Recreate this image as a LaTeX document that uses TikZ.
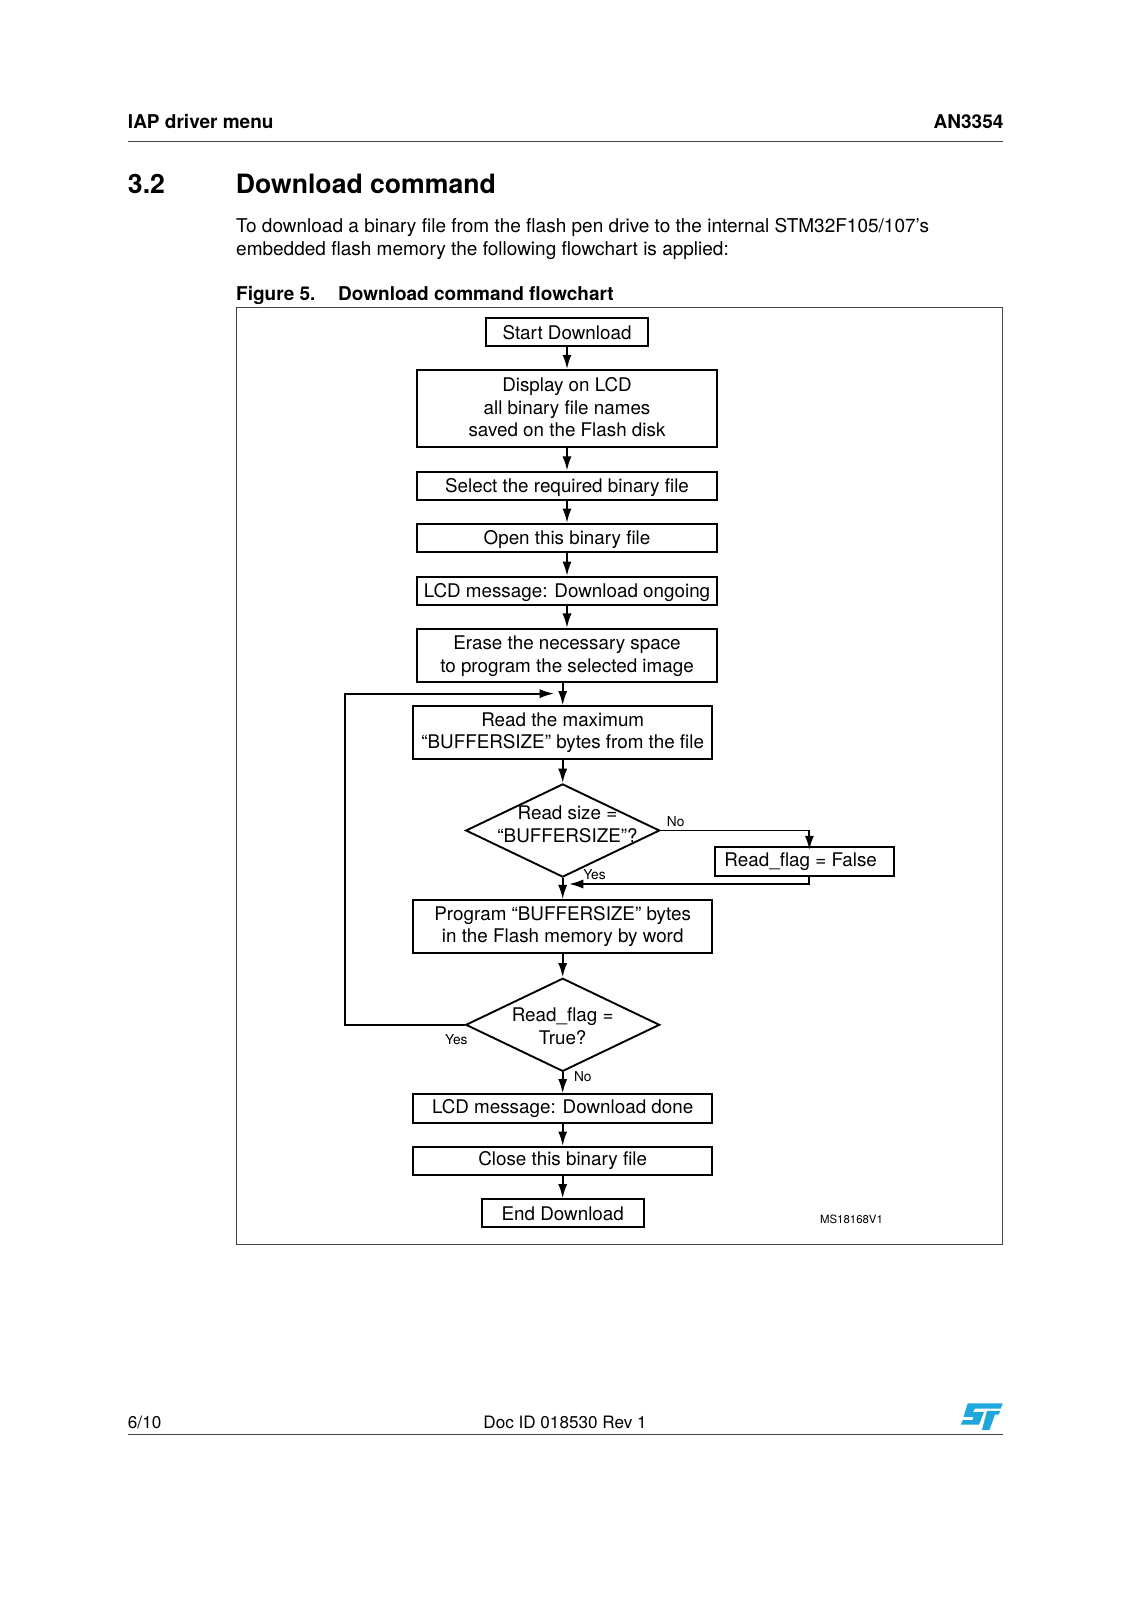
\documentclass[tikz,border=0pt]{standalone}
\usepackage{fontspec}
\setmainfont{TeX Gyre Heros}
\usepackage{xcolor}
\usetikzlibrary{arrows.meta,shapes.geometric}
\definecolor{stblue}{HTML}{1FA6DC}
\definecolor{rulegray}{HTML}{444444}
\tikzset{
  stepbox/.style={draw=black,line width=1pt,fill=white,inner sep=0pt,align=center,minimum width=157.5pt,font=\fontsize{9.9}{12}\selectfont},
  onerow/.style={minimum height=15pt,text height=7.2pt,text depth=0pt},
  decide/.style={draw=black,line width=1pt,shape=diamond,inner sep=0pt,minimum width=102pt,minimum height=49pt,aspect=2.09},
  decidetext/.style={inner sep=0pt,align=center,font=\fontsize{9.9}{12}\selectfont},
  flow/.style={draw=black,line width=1pt,-{Latex[length=7.5pt,width=4.8pt]}},
  small/.style={inner sep=0pt,font=\fontsize{7.2}{8}\selectfont},
  pagetext/.style={inner sep=0pt,anchor=base west,font=\fontsize{10}{12}\selectfont},
  pagebold/.style={pagetext,font=\fontsize{10}{12}\selectfont\bfseries},
  pagerule/.style={draw=rulegray,line width=.5pt}
}
\begin{document}
\begin{tikzpicture}[x=.526pt,y=-.526pt]
\useasboundingbox (0,0) rectangle (1132,1600);
% page head
\node[pagebold] (head) at (127.6,128) {IAP driver menu};
\node[pagebold,anchor=base east] (docno) at (1003.8,128) {AN3354};
\draw[pagerule] (127.6,141.4) -- (1003.3,141.4);
\node[pagetext,font=\fontsize{14}{16}\selectfont\bfseries] (secno) at (127.6,193.5) {3.2};
\node[pagetext,font=\fontsize{14}{16}\selectfont\bfseries] (sectitle) at (235.5,193.5) {Download command};
\node[pagetext] (bodya) at (235.8,232.5) {To download a binary file from the flash pen drive to the internal STM32F105/107’s};
\node[pagetext] (bodyb) at (235.8,255) {embedded flash memory the following flowchart is applied:};
\node[pagebold] (figno) at (235.8,300.5) {Figure 5.};
\node[pagebold] (figtitle) at (337.8,300.5) {Download command flowchart};
\draw[rulegray,line width=.5pt] (236,307.2) rectangle (1002.8,1244.2);
% upper steps
\node[stepbox,minimum width=85.4pt,minimum height=14.5pt] (start) at (567,332.2) {Start Download};
\node[stepbox,minimum height=40.5pt,text depth=1.6pt] (names) at (567,408.5) {Display on LCD\\all binary file names\\saved on the Flash disk};
\node[stepbox,onerow] (select) at (567,485.8) {Select the required binary file};
\node[stepbox,onerow] (open) at (567,538) {Open this binary file};
\node[stepbox,onerow] (ongoing) at (567,591) {LCD message: Download ongoing};
\node[stepbox,minimum height=27.9pt,text depth=1pt] (erase) at (567,655.2) {Erase the necessary space\\to program the selected image};
% loop body
\node[stepbox,minimum height=27.7pt] (read) at (562.7,732.6) {Read the maximum\\“BUFFERSIZE” bytes from the file};
\node[decide] (sizetest) at (562.7,830.5) {};
\node[decidetext] (sizetext) at (567.5,824.5) {Read size =\\“BUFFERSIZE”?};
\node[stepbox,minimum width=94.2pt,minimum height=15pt] (flagbox) at (804.5,861.3) {Read\_flag = False\hspace*{4pt}};
\node[stepbox,minimum height=27.7pt] (program) at (562.7,926.5) {Program “BUFFERSIZE” bytes\\in the Flash memory by word};
\node[decide] (flagtest) at (562.7,1024.8) {};
\node[decidetext] (flagtext) at (562.7,1026) {Read\_flag =\\True?};
% lower steps
\node[stepbox,minimum height=15pt] (done) at (562.7,1108.5) {LCD message: Download done};
\node[stepbox,minimum height=15pt] (close) at (562.7,1161) {Close this binary file};
\node[stepbox,minimum width=85.3pt,minimum height=14.8pt] (end) at (562.7,1213.3) {End Download};
% small labels
\node[small] (no1) at (675.7,822) {No};
\node[small] (yes1) at (594.5,874.7) {Yes};
\node[small] (yes2) at (456.3,1040) {Yes};
\node[small] (no2) at (582.8,1076.8) {No};
\node[small,font=\fontsize{6}{7}\selectfont] (msno) at (851.5,1219.7) {MS18168V1};
% connectors
\draw[flow] (start) -- (names);
\draw[flow] (names) -- (select);
\draw[flow] (select) -- (open);
\draw[flow] (open) -- (ongoing);
\draw[flow] (ongoing) -- (erase);
\draw[flow] (read.north |- erase.south) -- (read.north);
\draw[flow] (read) -- (sizetest);
\draw[flow] (sizetest) -- (program);
\draw[flow] (program) -- (flagtest);
\draw[flow] (flagtest) -- (done);
\draw[flow] (done) -- (close);
\draw[flow] (close) -- (end);
\coordinate (flagin) at (809.4,850);
\coordinate (flagout) at (809.4,875.7);
\coordinate (yesjoin) at (569,884);
\coordinate (loopleft) at (345,693.6);
\coordinate (looptip) at (554,693.6);
\draw[flow] (sizetest.east) -| (flagin);
\draw[flow] (flagout) |- (yesjoin);
\draw[flow] (flagtest.west) -| (loopleft) -- (looptip);
% page foot
\node[pagetext,font=\fontsize{9}{11}\selectfont] (pageno) at (127.6,1428) {6/10};
\node[pagetext,anchor=base,font=\fontsize{9}{11}\selectfont] (docid) at (565,1428) {Doc ID 018530 Rev 1};
\draw[pagerule] (127.6,1434.6) -- (1003.3,1434.6);
\fill[stblue] (967.7,1403.3) -- (1002.7,1403.3) -- (1000.8,1408.5) -- (975,1408.5) -- (973,1412) -- (984,1412) -- (979,1424.7) -- (960.7,1424.7) -- (962.8,1420) -- (972.5,1420) -- (973.5,1416.8) -- (963.5,1416.8) -- cycle;
\fill[stblue] (987,1410.8) -- (1000.3,1410.8) -- (998.8,1414.5) -- (995,1414.5) -- (989.5,1429.8) -- (982,1429.8) -- cycle;
\end{tikzpicture}
\end{document}
